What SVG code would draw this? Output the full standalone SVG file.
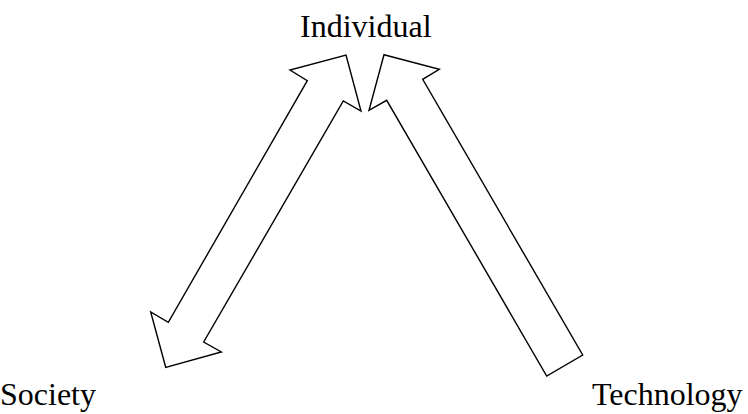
<svg xmlns="http://www.w3.org/2000/svg" width="748" height="414" viewBox="0 0 748 414">
<style>
.lbl{font-family:"Liberation Serif","Times New Roman",serif;font-size:32px;fill:#000}
.arr{fill:#fff;stroke:#000;stroke-width:1.4;stroke-linejoin:miter}
</style>
<rect width="748" height="414" fill="#fff"/>
<g id="connectors">
<polygon id="arrow-society-individual" class="arr" points="346,55 361,111 343.3,101 203.7,342 221.3,352 165.7,367.3 150.7,312 168.3,322.3 307.3,80.7 290,70"/>
<polygon id="arrow-technology-individual" class="arr" points="384,54.7 439.3,69.3 422.7,79.3 582.7,355 546.7,376 386.7,100.3 369,110.3"/>
</g>
<g id="node-individual"><text class="lbl" x="300" y="37">Individual</text></g>
<g id="node-society"><text class="lbl" x="0" y="405">Society</text></g>
<g id="node-technology"><text class="lbl" x="592" y="405">Technology</text></g>
</svg>
